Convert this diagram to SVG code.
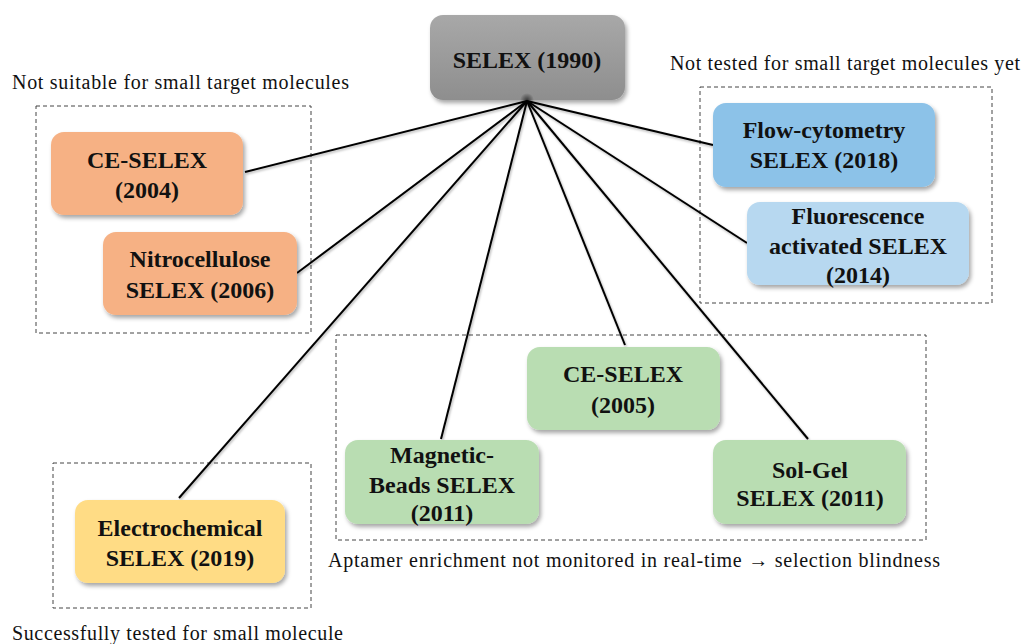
<svg xmlns="http://www.w3.org/2000/svg" width="1022" height="644" viewBox="0 0 1022 644">
<defs>
<filter id="sh" x="-10%" y="-10%" width="125%" height="135%">
<feDropShadow dx="2" dy="3" stdDeviation="2.2" flood-color="#000" flood-opacity="0.35"/>
</filter>
<filter id="lsh" x="-5%" y="-5%" width="110%" height="110%">
<feDropShadow dx="1" dy="1.5" stdDeviation="1.2" flood-color="#000" flood-opacity="0.3"/>
</filter>
<linearGradient id="gray" x1="0" y1="0" x2="0" y2="1">
<stop offset="0" stop-color="#a8a8a8"/>
<stop offset="1" stop-color="#8e8e8e"/>
</linearGradient>
<radialGradient id="glow">
<stop offset="0" stop-color="#000" stop-opacity="0.6"/>
<stop offset="1" stop-color="#000" stop-opacity="0"/>
</radialGradient>
</defs>
<style>
.node{filter:url(#sh);}
.t{font-family:'Liberation Serif','Times New Roman',serif;font-weight:bold;font-size:24px;fill:#111;text-anchor:middle;}
.cap{font-family:'Liberation Serif','Times New Roman',serif;font-size:20px;fill:#111;}
.grp{fill:none;stroke:#444;stroke-width:1;stroke-dasharray:4 3;}
.conn line{stroke:#000;stroke-width:2;}
.orange{fill:#F6B184;}
.blue1{fill:#8CC2E8;}
.blue2{fill:#B7D8F0;}
.green{fill:#B9DDB2;}
.yellow{fill:#FFDC85;}
</style>
<rect width="1022" height="644" fill="#fff"/>

<g id="groups">
<rect class="grp" x="36" y="106" width="275" height="227"/>
<rect class="grp" x="700" y="87" width="292" height="216"/>
<rect class="grp" x="336" y="335" width="590" height="205"/>
<rect class="grp" x="53" y="463" width="258" height="145"/>
</g>

<g id="captions">
<text class="cap" x="12" y="89" textLength="337" lengthAdjust="spacing">Not suitable for small target molecules</text>
<text class="cap" x="670" y="70" textLength="350" lengthAdjust="spacing">Not tested for small target molecules yet</text>
<text class="cap" x="328" y="567" textLength="612" lengthAdjust="spacing">Aptamer enrichment not monitored in real-time → selection blindness</text>
<text class="cap" x="12" y="640" textLength="331" lengthAdjust="spacing">Successfully tested for small molecule</text>
</g>

<g id="selex">
<rect class="node" x="430" y="15" width="195" height="85" rx="13" fill="url(#gray)"/>
<text class="t" x="527" y="68">SELEX (1990)</text>
</g>

<g class="conn" id="connectors" filter="url(#lsh)">
<line x1="527" y1="101" x2="245" y2="172"/>
<line x1="527" y1="101" x2="297" y2="273"/>
<line x1="527" y1="101" x2="179" y2="498"/>
<line x1="527" y1="101" x2="441" y2="439"/>
<line x1="527" y1="101" x2="625" y2="345"/>
<line x1="527" y1="101" x2="808" y2="439"/>
<line x1="527" y1="101" x2="747" y2="243"/>
<line x1="527" y1="101" x2="713" y2="145"/>
</g>
<circle cx="527" cy="100" r="7" fill="url(#glow)"/>

<g id="ce2004">
<rect class="node orange" x="51" y="132" width="192" height="83" rx="13"/>
<text class="t" x="147" y="168">CE-SELEX</text>
<text class="t" x="147" y="198">(2004)</text>
</g>

<g id="nitro">
<rect class="node orange" x="103" y="232" width="194" height="83" rx="13"/>
<text class="t" x="200" y="267">Nitrocellulose</text>
<text class="t" x="200" y="298">SELEX (2006)</text>
</g>

<g id="flow">
<rect class="node blue1" x="713" y="103" width="222" height="84" rx="13"/>
<text class="t" x="824" y="138">Flow-cytometry</text>
<text class="t" x="824" y="168">SELEX (2018)</text>
</g>

<g id="fluor">
<rect class="node blue2" x="747" y="202" width="222" height="83" rx="13"/>
<text class="t" x="858" y="224">Fluorescence</text>
<text class="t" x="858" y="254">activated SELEX</text>
<text class="t" x="858" y="283">(2014)</text>
</g>

<g id="ce2005">
<rect class="node green" x="527" y="347" width="193" height="83" rx="13"/>
<text class="t" x="623" y="382">CE-SELEX</text>
<text class="t" x="623" y="413">(2005)</text>
</g>

<g id="magnetic">
<rect class="node green" x="345" y="440" width="194" height="84" rx="13"/>
<text class="t" x="442" y="463">Magnetic-</text>
<text class="t" x="442" y="493">Beads SELEX</text>
<text class="t" x="442" y="521">(2011)</text>
</g>

<g id="solgel">
<rect class="node green" x="713" y="440" width="193" height="84" rx="13"/>
<text class="t" x="810" y="478">Sol-Gel</text>
<text class="t" x="810" y="506">SELEX (2011)</text>
</g>

<g id="electro">
<rect class="node yellow" x="75" y="500" width="210" height="83" rx="13"/>
<text class="t" x="180" y="536">Electrochemical</text>
<text class="t" x="180" y="566">SELEX (2019)</text>
</g>
</svg>
